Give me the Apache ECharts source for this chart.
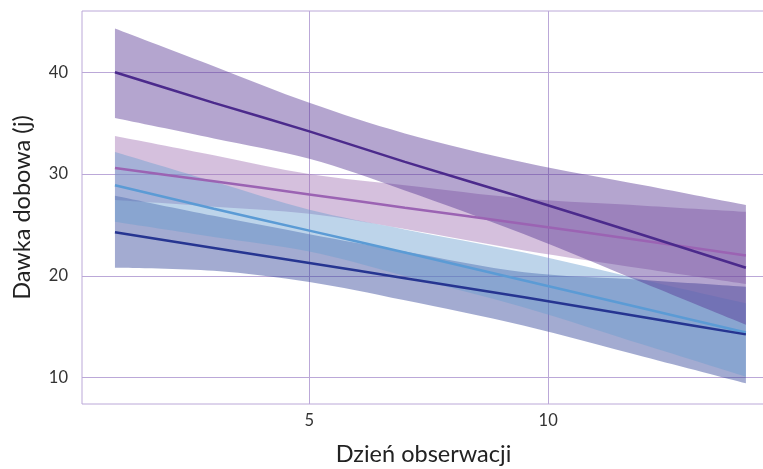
<!DOCTYPE html>
<html><head><meta charset="utf-8">
<script src="https://cdn.jsdelivr.net/npm/echarts@6/dist/echarts.min.js"></script>
<style>html,body{margin:0;padding:0;background:#fff}#c{width:763px;height:469px}</style>
</head><body><div id="c"></div>
<script>
// Days (x positions of the estimated points)
const days = [0.93, 3, 5, 7, 9.5, 12, 14.14];
const xTicks = [5, 10];
const yTicks = [10, 20, 30, 40];

// Group 1 (dark purple)
const purpleMid = [40.0, 37.0, 34.2, 31.2, 27.65, 24.0, 20.8];
const purpleHi  = [44.3, 40.6, 37.0, 34.0, 31.15, 28.9, 26.96];
const purpleLo  = [35.5, 33.5, 31.5, 28.4, 24.1, 19.3, 15.2];
// Group 2 (mauve)
const mauveMid = [30.6, 29.3, 28.0, 26.7, 25.1, 23.45, 22.0];
const mauveHi  = [33.74, 31.85, 30.0, 28.9, 27.6, 26.9, 26.3];
const mauveLo  = [27.45, 26.8, 26.1, 24.6, 22.5, 20.7, 19.2];
// Group 3 (light blue)
const blueMid = [28.9, 26.6, 24.45, 22.3, 19.55, 16.8, 14.45];
const blueHi  = [32.17, 29.27, 26.5, 24.57, 22.3, 19.6, 17.31];
const blueLo  = [25.32, 23.83, 22.39, 20.0, 16.9, 13.23, 10.1];
// Group 4 (navy)
const navyMid = [24.28, 22.75, 21.27, 19.78, 17.9, 15.94, 14.26];
const navyHi  = [27.88, 25.9, 24.1, 22.4, 20.35, 19.6, 18.94];
const navyLo  = [20.8, 20.5, 19.4, 17.6, 15.1, 12.06, 9.45];

const FONT = 'Lato';
const GRID = '#bba8d8';

function curve(pts) {
  let d = '';
  for (let i = 0; i < pts.length - 1; i++) {
    const p0 = pts[i - 1] || pts[i], p1 = pts[i], p2 = pts[i + 1], p3 = pts[i + 2] || pts[i + 1];
    const c1 = [p1[0] + (p2[0] - p0[0]) / 6, p1[1] + (p2[1] - p0[1]) / 6];
    const c2 = [p2[0] - (p3[0] - p1[0]) / 6, p2[1] - (p3[1] - p1[1]) / 6];
    d += ' C' + c1[0] + ',' + c1[1] + ' ' + c2[0] + ',' + c2[1] + ' ' + p2[0] + ',' + p2[1];
  }
  return d;
}

function band(name, lo, hi, color) {
  return {
    name: name, type: 'custom', silent: true, z: 2,
    data: days.map((d, i) => [d, lo[i], hi[i]]),
    encode: { x: 0, y: [1, 2] },
    renderItem: function (params, api) {
      if (params.dataIndex !== 0) return null;
      const top = days.map((d, i) => api.coord([d, hi[i]]));
      const bot = days.map((d, i) => api.coord([d, lo[i]])).reverse();
      const path = 'M' + top[0][0] + ',' + top[0][1] + curve(top) +
        ' L' + bot[0][0] + ',' + bot[0][1] + curve(bot) + ' Z';
      return { type: 'path', shape: { pathData: path }, style: { fill: color } };
    }
  };
}
function line(name, mid, color) {
  return { name: name, type: 'line', data: days.map((d, i) => [d, mid[i]]), showSymbol: false,
    symbol: 'none', smooth: 0.2, lineStyle: { color: color, width: 2.5 }, silent: true, z: 5 };
}

const chart = echarts.init(document.getElementById('c'), null, { renderer: 'canvas' });
chart.setOption({
  animation: false,
  backgroundColor: '#fff',
  grid: { left: 82, right: -2, top: 11, bottom: 65, outerBoundsMode: 'none', containLabel: false,
    show: true, borderColor: GRID, borderWidth: 1 },
  xAxis: {
    type: 'value', min: 0.24, max: 14.54,
    name: 'Dzień obserwacji', nameLocation: 'middle', nameGap: 38,
    nameTextStyle: { fontFamily: FONT, fontSize: 23.5, color: '#222' },
    axisLine: { show: false }, axisTick: { show: false, customValues: xTicks },
    axisLabel: { customValues: xTicks, fontFamily: FONT, fontSize: 16.5, color: '#333', margin: 8 },
    splitLine: { show: true, lineStyle: { color: GRID, width: 1 } }
  },
  yAxis: {
    type: 'value', min: 7.42, max: 46.02,
    name: 'Dawka dobowa (j)', nameLocation: 'middle', nameGap: 48,
    nameTextStyle: { fontFamily: FONT, fontSize: 23.5, color: '#222' },
    axisLine: { show: false }, axisTick: { show: false, customValues: yTicks },
    axisLabel: { customValues: yTicks, fontFamily: FONT, fontSize: 16.5, color: '#333', margin: 14 },
    splitLine: { show: true, lineStyle: { color: GRID, width: 1 } }
  },
  series: [
    band('mauveBand', mauveLo, mauveHi, 'rgba(160,112,178,0.44)'),
    band('navyBand', navyLo, navyHi, 'rgba(46,64,150,0.44)'),
    band('blueBand', blueLo, blueHi, 'rgba(105,157,207,0.44)'),
    band('purpleBand', purpleLo, purpleHi, 'rgba(85,50,146,0.44)'),
    line('Grupa 2', mauveMid, '#9b63b3'),
    line('Grupa 1', purpleMid, '#4b2a8c'),
    line('Grupa 3', blueMid, '#5b9bd5'),
    line('Grupa 4', navyMid, '#263591')
  ]
});
</script>
</body></html>
